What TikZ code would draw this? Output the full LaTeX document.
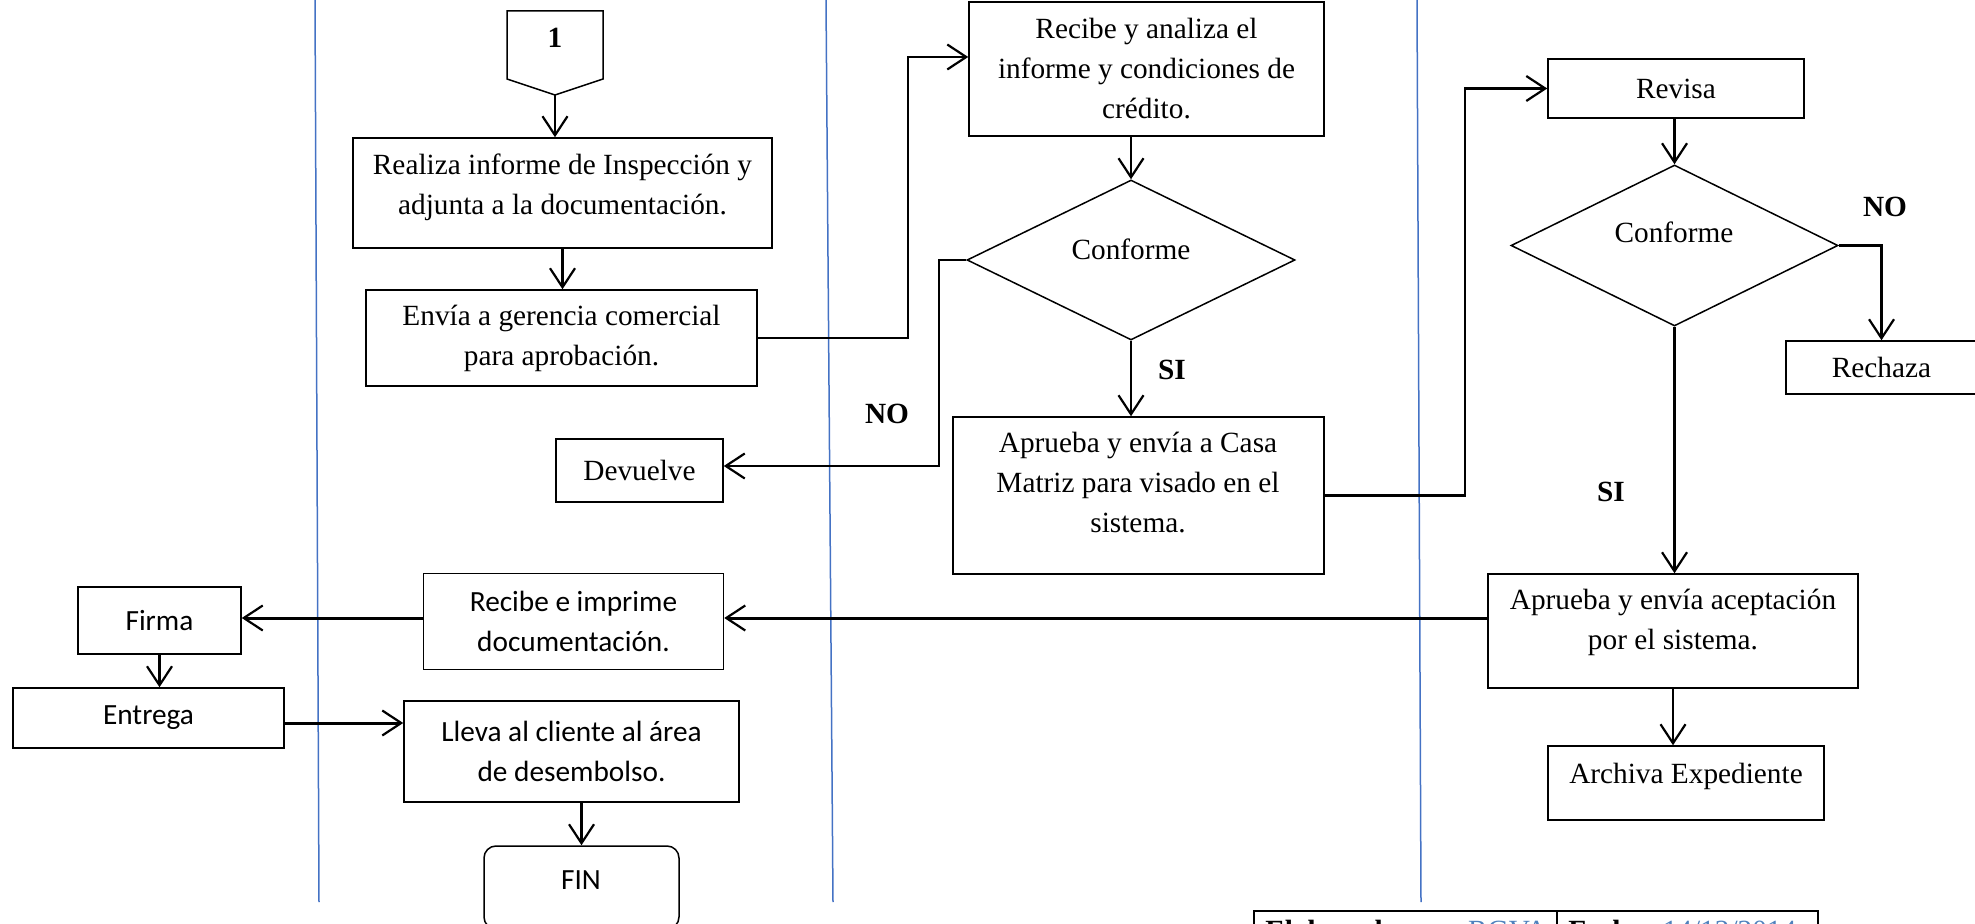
\documentclass[tikz,border=0pt]{standalone}
\usepackage{fontspec}
\setmainfont{Liberation Serif}
\newfontfamily\calib{Carlito}
\usetikzlibrary{arrows.meta,shapes.geometric,calc}
\definecolor{laneblue}{RGB}{68,114,196}
\definecolor{tblue}{RGB}{79,129,189}
\begin{document}
\begin{tikzpicture}[x=0.5pt,y=-0.5pt,
  every node/.style={font=\fontsize{14.65pt}{20pt}\selectfont},
  box/.style={draw=black, line width=0.75pt, inner sep=0pt, align=center, rectangle},
  dia/.style={draw=black, line width=0.75pt, inner sep=0pt, diamond},
  txt/.style={align=center, inner sep=0pt},
  cal/.style={font=\calib\fontsize{14.65pt}{20pt}\selectfont},
  lab/.style={font=\bfseries\fontsize{14.65pt}{20pt}\selectfont, inner sep=0pt},
  arr/.style={-{Straight Barb[length=9.5pt,width=12.5pt,line width=1.1pt]}, line width=1.1pt},
  bold line/.style={line width=1.5pt},
  lane/.style={draw=laneblue, line width=0.75pt},
]
\useasboundingbox (0,0) rectangle (1975,924);
\clip (0,0) rectangle (1975,924);

% swimlane separators
\draw[lane] (315,0) -- (319,902);
\draw[lane] (826,0) -- (833,902);
\draw[lane] (1417,0) -- (1421,902);

% off-page connector
\coordinate (c1tip) at (555,95);
\draw[draw=black, line width=0.75pt] (507,11) -- (603,11) -- (603,79) -- (c1tip) -- (507,79) -- cycle;
\node[lab] (c1) at (555,38) {1};

% boxes
\node[box, minimum width=209.5pt, minimum height=55pt] (realiza) at (562.5,193) {};
\node[txt] (realizat) at (562.5,187) {Realiza informe de Inspección y\\adjunta a la documentación.};
\node[box, minimum width=195.5pt, minimum height=48pt] (envia) at (561.5,338) {Envía a gerencia comercial\\para aprobación.};
\node[box, minimum width=83.5pt, minimum height=31.5pt] (devuelve) at (639.5,470.5) {Devuelve};
\node[box, minimum width=177.5pt, minimum height=67pt] (recibe) at (1146.5,69) {Recibe y analiza el\\informe y condiciones de\\crédito.};
\node[dia, minimum width=164pt, minimum height=80pt] (conf1) at (1131,260) {};
\node[txt] (conf1t) at (1131,249) {Conforme};
\node[box, minimum width=185.5pt, minimum height=78.5pt] (aprcasa) at (1138.5,495.5) {};
\node[txt] (aprcasat) at (1138,483) {Aprueba y envía a Casa\\Matriz para visado en el\\sistema.};
\node[box, minimum width=128pt, minimum height=29.5pt] (revisa) at (1676,88.5) {Revisa};
\node[dia, minimum width=163.5pt, minimum height=80.5pt] (conf2) at (1674.5,245.5) {};
\node[txt] (conf2t) at (1674,232) {Conforme};
\node[box, minimum width=95.5pt, minimum height=26.5pt] (rechaza) at (1881.5,367.5) {Rechaza};
\node[box, minimum width=185pt, minimum height=57pt] (apracep) at (1673,631) {};
\node[txt] (apracept) at (1673,622) {Aprueba y envía aceptación\\por el sistema.};
\node[box, minimum width=138pt, minimum height=37pt] (archiva) at (1686,783) {};
\node[txt] (archivat) at (1686,776) {Archiva Expediente};
\node[box, cal, minimum width=150pt, minimum height=48pt] (recimp) at (573.5,621.5) {Recibe e imprime\\documentación.};
\node[box, cal, minimum width=81.5pt, minimum height=33.5pt] (firma) at (159.5,620.5) {Firma};
\node[box, cal, minimum width=135.5pt, minimum height=30pt] (entrega) at (148.5,718) {Entrega};
\node[box, cal, minimum width=167.5pt, minimum height=50.5pt] (lleva) at (571.5,751.5) {Lleva al cliente al área\\de desembolso.};
\node[box, rounded corners=6pt, minimum width=97.5pt, minimum height=41.5pt] (fin) at (581.5,887.5) {};
\node[txt, cal] (fint) at (581,880) {FIN};

% labels
\node[lab] (si1) at (1172,370) {SI};
\node[lab] (no1) at (887,414) {NO};
\node[lab] (no2) at (1885,207) {NO};
\node[lab] (si2) at (1611,492) {SI};

% connectors
\draw[arr] (c1tip) -- (c1tip |- realiza.north);
\draw[arr] (realiza.south) -- (realiza.south |- envia.north);
\coordinate (k1) at (908,57);
\draw[arr] (envia.east) -| (k1) -- (k1 -| recibe.west);
\draw[arr] (recibe.south -| conf1.north) -- (conf1.north);
\draw[arr] (conf1.south) -- (conf1.south |- aprcasa.north);
\coordinate (k3) at (939,466);
\draw[arr] (conf1.west) -| (k3) -- (k3 -| devuelve.east);
\coordinate (k4) at (1465,300);
\draw[arr] (aprcasa.east) -| (k4) |- (revisa.west);
\draw[arr] (revisa.south -| conf2.north) -- (conf2.north);
\draw[arr] (conf2.east) -| (rechaza.north);
\draw[arr] (conf2.south) -- (conf2.south |- apracep.north);
\draw[arr] (apracep.south) -- (apracep.south |- archiva.north);
\coordinate (k5) at (1000,618);
\draw[arr, bold line] (apracep.west |- k5) -- (recimp.east |- k5);
\draw[arr, bold line] (recimp.west |- k5) -- (firma.east |- k5);
\draw[arr] (firma.south) -- (firma.south |- entrega.north);
\coordinate (k6) at (300,723);
\draw[arr, bold line] (entrega.east |- k6) -- (lleva.west |- k6);
\draw[arr] (fin.north |- lleva.south) -- (fin.north);

% signature table (cut by the page edge)
\draw[line width=1pt] (1254,911) rectangle (1818,985);
\draw[line width=1pt] (1557,911) -- (1557,985);
\node[anchor=base west, inner sep=0pt] (elab) at (1265,940) {\textbf{Elaborado por:} \textcolor{tblue}{RGVA}};
\node[anchor=base west, inner sep=0pt] (fecha) at (1568,940) {\textbf{Fecha:} \textcolor{tblue}{14/12/2014}};
\end{tikzpicture}
\end{document}
